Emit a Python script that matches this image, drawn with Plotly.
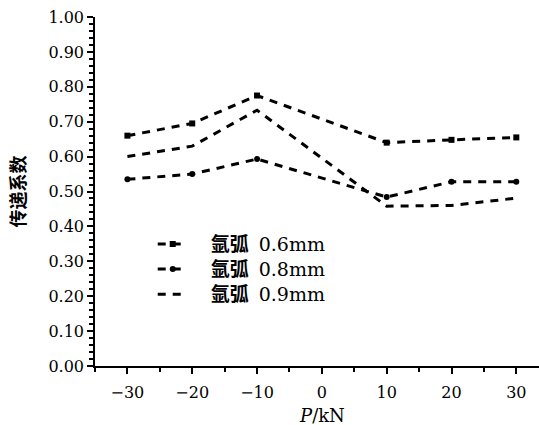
import plotly.graph_objects as go

# Data
P = [-30, -20, -10, 10, 20, 30]
s06 = [0.660, 0.695, 0.775, 0.640, 0.648, 0.655]
s08 = [0.535, 0.550, 0.593, 0.484, 0.528, 0.528]
s09 = [0.600, 0.630, 0.733, 0.458, 0.460, 0.481]
labels = ["0.6mm", "0.8mm", "0.9mm"]
NB = "\u00a0"
names = ['<span style="font-size:19px">' + NB * 3 + "<b>氩弧</b>" + NB + "\u2009" + lab + "</span>"
         for lab in labels]
yticks = [0.0, 0.1, 0.2, 0.3, 0.4, 0.5, 0.6, 0.7, 0.8, 0.9, 1.0]
xticks = [-30, -20, -10, 0, 10, 20, 30]

FONT = "DejaVu Serif, Noto Sans CJK SC"
dash = "8px,7px"

fig = go.Figure()
fig.add_trace(go.Scatter(x=P, y=s06, name=names[0], mode="lines+markers",
                         line=dict(color="black", width=3, dash=dash),
                         marker=dict(symbol="square", size=6, color="black"),
                         legendgroup="a"))
fig.add_trace(go.Scatter(x=P, y=s08, name=names[1], mode="lines+markers",
                         line=dict(color="black", width=3, dash=dash),
                         marker=dict(symbol="circle", size=6, color="black"),
                         legendgroup="b"))
fig.add_trace(go.Scatter(x=P, y=s09, name=names[2], mode="lines",
                         line=dict(color="black", width=3, dash=dash),
                         legendgroup="c"))

fig.update_layout(
    width=539, height=425,
    margin=dict(l=95, r=0, t=17, b=59, autoexpand=False),
    paper_bgcolor="white", plot_bgcolor="white",
    font=dict(family=FONT, size=16, color="black"),
    showlegend=True,
    legend=dict(x=0.13, y=0.40, xanchor="left", yanchor="top",
                bgcolor="rgba(0,0,0,0)", itemwidth=30, tracegroupgap=0,
                font=dict(family=FONT, size=17, color="black")),
    xaxis=dict(range=[-35, 33.5], tickvals=xticks, ticks="outside", ticklen=6,
               tickwidth=1.5, tickcolor="black", showline=True, linecolor="black",
               linewidth=1.5, showgrid=False, zeroline=False, ticklabelstandoff=5,
               automargin=False,
               tickfont=dict(family=FONT, size=16),
               minor=dict(dtick=5, tick0=0, ticks="outside", ticklen=4, tickcolor="black")),
    yaxis=dict(range=[0, 1], tickvals=yticks, tickformat=".2f", ticks="outside", ticklen=6,
               tickwidth=1.5, tickcolor="black", showline=True, linecolor="black",
               linewidth=1.5, showgrid=False, zeroline=False, automargin=False,
               tickfont=dict(family=FONT, size=16),
               minor=dict(dtick=0.02, tick0=0, ticks="outside", ticklen=4, tickcolor="black"),
               title=dict(text="<b>传递系数</b>", font=dict(family=FONT, size=18), standoff=18)),
    annotations=[dict(text="<i>P</i>/kN", xref="x", yref="paper", x=0, y=-0.143,
                      xanchor="center", yanchor="middle", showarrow=False,
                      font=dict(family=FONT, size=18, color="black"))],
)

fig.write_html("out.html")
